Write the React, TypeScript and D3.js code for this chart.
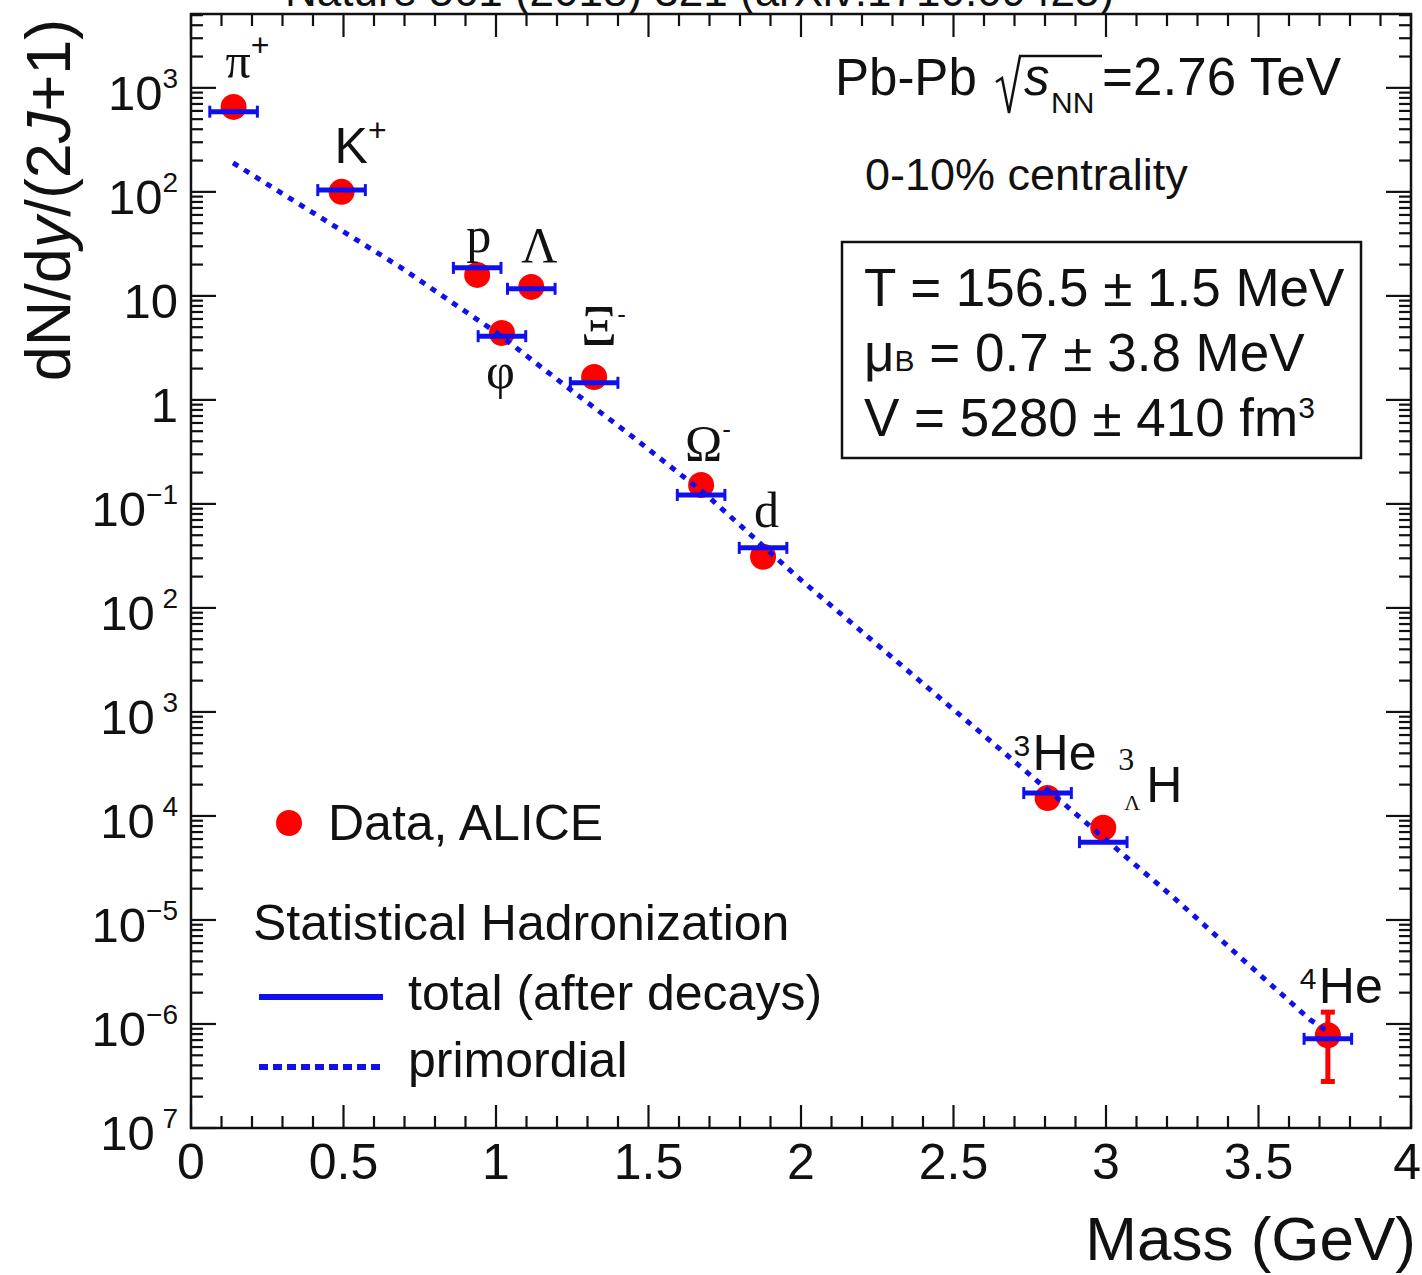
import React from 'react';
import * as d3 from 'd3';

// particle species, masses (GeV) and yields dN/dy/(2J+1)
const particles = ['pi+', 'K+', 'p', 'phi', 'Lambda', 'Xi-', 'Omega-', 'd', '3He', '3LH', '4He'];
const masses = [0.1396, 0.4937, 0.9383, 1.0195, 1.1157, 1.3217, 1.6725, 1.8756, 2.8084, 2.991, 3.7274];
const dataYield = [656, 100, 15.9, 4.4, 12.2, 1.66, 0.152, 0.031, 1.49e-4, 7.7e-5, 7.8e-7];
const modelYield = [590, 104, 18.6, 4.1, 11.7, 1.46, 0.122, 0.0378, 1.66e-4, 5.6e-5, 7.2e-7];
const he4ErrLow = 2.8e-7;
const he4ErrHigh = 1.3e-6;

// primordial curve
const primMass = [0.138, 0.685, 1.003, 1.233, 1.449, 1.69, 1.987, 2.587, 3.22, 3.669, 3.721];
const primYield = [190, 19, 4.4, 1.33, 0.44, 0.122, 0.02, 6.4e-4, 1.66e-5, 1.1e-6, 8.7e-7];

// labels
const labelPre = ['', '', '', '', '', '', '', '', '3', '3', '4'];
const labelMain = ['π', 'K', 'p', 'φ', 'Λ', 'Ξ', 'Ω', 'd', 'He', 'H', 'He'];
const labelSup = ['+', '+', '', '', '', '-', '-', '', '', '', ''];

const xTickLabels = ['0', '0.5', '1', '1.5', '2', '2.5', '3', '3.5', '4'];
const yTickExp = [3, 2, 1, 0, -1, -2, -3, -4, -5, -6, -7];
const yTickBase = ['10', '10', '10', '1', '10', '10', '10', '10', '10', '10', '10'];
const yTickSup = ['3', '2', '', '', '−1', ' 2', ' 3', ' 4', '−5', '−6', ' 7'];

const sans = '"Liberation Sans", Arial, Helvetica, sans-serif';
const serif = '"Liberation Serif", "Times New Roman", serif';
const BLUE = '#1010ee';
const RED = '#ff0000';

// label placement relative to marker (px)
const labelLayout = [
  { dx: -8, dy: -29, serif: true, size: 50 },
  { dx: -7, dy: -29, serif: false, size: 50 },
  { dx: -11, dy: -23, serif: true, size: 50 },
  { dx: -16, dy: 55, serif: true, size: 50 },
  { dx: -10, dy: -25, serif: true, size: 50 },
  { dx: -13, dy: -32, serif: true, size: 56 },
  { dx: -16, dy: -25, serif: true, size: 50 },
  { dx: -9, dy: -30, serif: true, size: 50 },
  { dx: -34, dy: -28, serif: false, size: 50 },
  { dx: 15, dy: -26, serif: false, size: 50 },
  { dx: -28, dy: -32, serif: false, size: 50 },
];

export default function App() {
  const W = 1422;
  const H = 1275;
  const left = 191, right = 1411, top = 14, bottom = 1128;

  const x = d3.scaleLinear().domain([0, 4]).range([left, right]);
  const y = d3.scaleLog().domain([1e-7, Math.pow(10, 3.71)]).range([bottom, top]);

  const xMajor = d3.range(0, 4.001, 0.5);
  const xMinor = d3.range(0, 4.001, 0.1).filter((v) => Math.abs(v * 2 - Math.round(v * 2)) > 1e-6);
  const yMajor = yTickExp.map((e) => Math.pow(10, e));
  const yMinor: number[] = [];
  for (let e = -7; e <= 3; e++) {
    for (let k = 2; k <= 9; k++) {
      const v = k * Math.pow(10, e);
      if (v <= y.domain()[1]) yMinor.push(v);
    }
  }

  const primLine = d3.line<number>()
    .x((_, i) => x(primMass[i]))
    .y((_, i) => y(primYield[i]));

  const halfW = 0.078;
  const capH = 6;

  return (
    <svg width={W} height={H} style={{ position: 'absolute', left: 0, top: 0, background: '#fff' }}>
      <rect x={0} y={0} width={W} height={H} fill="#fff" />

      {/* reference line, cut by the top edge as in the source image */}
      <text x={285} y={6} fontFamily={sans} fontSize={44} fill="#111">Nature 561 (2018) 321 (arXiv:1710.09425)</text>

      {/* frame */}
      <rect x={left} y={top} width={right - left} height={bottom - top} fill="none" stroke="#111" strokeWidth={2.5} />

      {/* x ticks */}
      {xMajor.map((v) => (
        <g key={'xM' + v}>
          <line x1={x(v)} x2={x(v)} y1={bottom} y2={bottom - 23} stroke="#111" strokeWidth={2.2} />
          <line x1={x(v)} x2={x(v)} y1={top} y2={top + 23} stroke="#111" strokeWidth={2.2} />
        </g>
      ))}
      {xMinor.map((v) => (
        <g key={'xm' + v}>
          <line x1={x(v)} x2={x(v)} y1={bottom} y2={bottom - 12} stroke="#111" strokeWidth={2.2} />
          <line x1={x(v)} x2={x(v)} y1={top} y2={top + 12} stroke="#111" strokeWidth={2.2} />
        </g>
      ))}
      {xMajor.map((v, i) => (
        <text key={'xl' + v} x={i === xMajor.length - 1 ? 1421 : x(v)} y={1179}
          textAnchor={i === xMajor.length - 1 ? 'end' : 'middle'} fontFamily={sans} fontSize={50} fill="#111">
          {xTickLabels[i]}
        </text>
      ))}

      {/* y ticks */}
      {yMajor.map((v) => (
        <g key={'yM' + v}>
          <line x1={left} x2={left + 25} y1={y(v)} y2={y(v)} stroke="#111" strokeWidth={2.2} />
          <line x1={right} x2={right - 25} y1={y(v)} y2={y(v)} stroke="#111" strokeWidth={2.2} />
        </g>
      ))}
      {yMinor.map((v) => (
        <g key={'ym' + v}>
          <line x1={left} x2={left + 12} y1={y(v)} y2={y(v)} stroke="#111" strokeWidth={2.2} />
          <line x1={right} x2={right - 12} y1={y(v)} y2={y(v)} stroke="#111" strokeWidth={2.2} />
        </g>
      ))}
      {yMajor.map((v, i) => (
        <text key={'yl' + v} x={178} y={y(v) + 22} textAnchor="end" fontFamily={sans} fontSize={49} fill="#111"
          style={{ whiteSpace: 'pre' }}>
          {yTickBase[i]}
          {yTickSup[i] && <tspan dy={-22} fontSize={28}>{yTickSup[i]}</tspan>}
        </text>
      ))}

      {/* axis titles */}
      <text transform="translate(70,200) rotate(-90)" textAnchor="middle" fontFamily={sans} fontSize={63} fill="#111">
        dN/d<tspan fontStyle="italic">y</tspan>/(2<tspan fontStyle="italic">J</tspan>+1)
      </text>
      <text x={1416} y={1260} textAnchor="end" fontFamily={sans} fontSize={62} fill="#111">Mass (GeV)</text>

      {/* data markers */}
      {masses.map((m, i) => (
        <circle key={'d' + particles[i]} cx={x(m)} cy={y(dataYield[i])} r={13} fill={RED} />
      ))}
      {/* 4He error bar */}
      <g stroke={RED} strokeWidth={5}>
        <line x1={x(masses[10])} x2={x(masses[10])} y1={y(he4ErrLow)} y2={y(he4ErrHigh)} />
        <line x1={x(masses[10]) - 7} x2={x(masses[10]) + 7} y1={y(he4ErrLow)} y2={y(he4ErrLow)} />
        <line x1={x(masses[10]) - 7} x2={x(masses[10]) + 7} y1={y(he4ErrHigh)} y2={y(he4ErrHigh)} />
      </g>

      {/* primordial curve */}
      <path d={primLine(primMass) || ''} fill="none" stroke={BLUE} strokeWidth={5} strokeDasharray="6,7" />

      {/* model total bars */}
      {masses.map((m, i) => {
        const yy = y(modelYield[i]);
        const x0 = x(m - halfW);
        const x1 = x(m + halfW);
        return (
          <g key={'m' + particles[i]} stroke={BLUE} strokeWidth={5}>
            <line x1={x0} x2={x1} y1={yy} y2={yy} />
            <line x1={x0} x2={x0} y1={yy - capH} y2={yy + capH} strokeWidth={3} />
            <line x1={x1} x2={x1} y1={yy - capH} y2={yy + capH} strokeWidth={3} />
          </g>
        );
      })}

      {/* particle labels */}
      {masses.map((m, i) => {
        const L = labelLayout[i];
        const px = x(m) + L.dx;
        const py = y(dataYield[i]) + L.dy;
        const fam = L.serif ? serif : sans;
        if (particles[i] === '3LH') {
          return (
            <g key={'l' + i}>
              <text x={px} y={py - 32} fontFamily={serif} fontSize={32} fill="#111">{labelPre[i]}</text>
              <text x={px + 6} y={py + 8} fontFamily={serif} fontSize={22} fill="#111">Λ</text>
              <text x={px + 28} y={py} fontFamily={sans} fontSize={50} fill="#111">{labelMain[i]}</text>
            </g>
          );
        }
        if (labelPre[i]) {
          return (
            <g key={'l' + i}>
              <text x={px} y={py - 14} fontFamily={sans} fontSize={30} fill="#111">{labelPre[i]}</text>
              <text x={px + 19} y={py} fontFamily={fam} fontSize={L.size} fill="#111">{labelMain[i]}</text>
            </g>
          );
        }
        return (
          <text key={'l' + i} x={px} y={py} fontFamily={fam} fontSize={L.size} fill="#111">
            {labelMain[i]}
            {labelSup[i] && (
              <tspan fontSize={labelSup[i] === '-' ? 26 : 32} dy={-22} fontFamily={sans}>{labelSup[i]}</tspan>
            )}
          </text>
        );
      })}

      {/* collision system annotation */}
      <text x={835} y={95} fontFamily={sans} fontSize={51} fill="#111">Pb-Pb</text>
      <path d="M 996 82 L 1002 78 L 1009 113 L 1020 56 L 1102 56" fill="none" stroke="#111" strokeWidth={2.5} />
      <text x={1024} y={95} fontFamily={sans} fontSize={51} fontStyle="italic" fill="#111">s</text>
      <text x={1051} y={113} fontFamily={sans} fontSize={30} fill="#111">NN</text>
      <text x={1102} y={95} fontFamily={sans} fontSize={53} fill="#111">=2.76 TeV</text>
      <text x={865} y={190} fontFamily={sans} fontSize={45} fill="#111">0-10% centrality</text>

      {/* fit result box */}
      <rect x={842} y={242} width={519} height={216} fill="#fff" stroke="#111" strokeWidth={2.5} />
      <text x={864} y={306} fontFamily={sans} fontSize={53} fill="#111" style={{ whiteSpace: 'pre' }}>T = 156.5 ± 1.5 MeV</text>
      <text x={864} y={371} fontFamily={sans} fontSize={53} fill="#111" style={{ whiteSpace: 'pre' }}>
        μ<tspan fontSize={30}>B</tspan> = 0.7 ± 3.8 MeV
      </text>
      <text x={864} y={436} fontFamily={sans} fontSize={53} fill="#111" style={{ whiteSpace: 'pre' }}>
        V = 5280 ± 410 fm<tspan fontSize={30} dy={-18}>3</tspan>
      </text>

      {/* legend */}
      <circle cx={289} cy={823} r={13} fill={RED} />
      <text x={328} y={840} fontFamily={sans} fontSize={50} fill="#111">Data, ALICE</text>
      <text x={253} y={940} fontFamily={sans} fontSize={50} fill="#111">Statistical Hadronization</text>
      <line x1={259} x2={383} y1={997} y2={997} stroke={BLUE} strokeWidth={6} />
      <text x={408} y={1010} fontFamily={sans} fontSize={50} fill="#111">total (after decays)</text>
      <line x1={259} x2={380} y1={1067} y2={1067} stroke={BLUE} strokeWidth={6} strokeDasharray="9,5" />
      <text x={408} y={1077} fontFamily={sans} fontSize={50} fill="#111">primordial</text>
    </svg>
  );
}
